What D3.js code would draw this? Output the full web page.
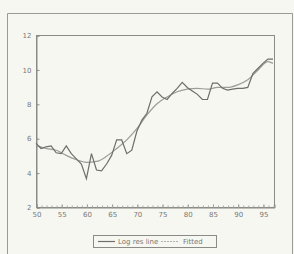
<!DOCTYPE html>
<html lang="en">
<head>
  <meta charset="UTF-8" />
  <title>Log res line vs fitted</title>
  <script src="https://cdn.jsdelivr.net/npm/d3@7"></script>
  <style>
    html, body { margin: 0; padding: 0; background: #f7f7f1; overflow: hidden; }
    svg { display: block; }
  </style>
</head>
<body>
  <script>
    // years 1950..1997 (two-digit labels)
    const years = d3.range(50, 98);
    const actual = [5.7, 5.4, 5.5, 5.55, 5.15, 5.1, 5.55, 5.1, 4.8, 4.5,
                    3.65, 5.1, 4.15, 4.1, 4.5, 5.0, 5.9, 5.9, 5.1, 5.3,
                    6.4, 7.05, 7.45, 8.4, 8.7, 8.4, 8.25, 8.6, 8.9, 9.25,
                    8.95, 8.75, 8.55, 8.25, 8.25, 9.2, 9.2, 8.9, 8.8, 8.85,
                    8.9, 8.9, 8.95, 9.75, 10.05, 10.35, 10.6, 10.6];
    const fitYears = [50, 52, 54, 56, 58, 60, 62, 64, 66, 68, 70, 72, 74, 76, 78, 80, 82, 84, 86, 88, 90, 92, 94, 96, 97];
    const fitted = [5.6, 5.4, 5.3, 5.0, 4.75, 4.6, 4.65, 4.95, 5.4, 5.9, 6.55, 7.35, 8.0, 8.4, 8.7, 8.85, 8.9, 8.85, 8.95, 8.95, 9.1, 9.4, 9.95, 10.45, 10.35];
    const xTicks = [50, 55, 60, 65, 70, 75, 80, 85, 90, 95];
    const yTicks = [2, 4, 6, 8, 10, 12];
    const legendLabels = ["Log res line", "Fitted"];

    const W = 294, H = 254;
    const svg = d3.select("body").append("svg").attr("width", W).attr("height", H);

    // outer frame of the scanned figure
    svg.append("path")
      .attr("d", "M7.5,254 V13.5 H292.5 V254")
      .attr("fill", "none").attr("stroke", "#9a9a96").attr("stroke-width", 1);

    const m = { left: 36, right: 274, top: 35, bottom: 207 };
    const x = d3.scaleLinear().domain([50, 97.2]).range([m.left, m.right]);
    const y = d3.scaleLinear().domain([2, 12]).range([m.bottom, m.top]);

    svg.append("rect")
      .attr("x", m.left + 0.5).attr("y", m.top + 0.5)
      .attr("width", m.right - m.left).attr("height", m.bottom - m.top)
      .attr("fill", "none").attr("stroke", "#8a8a86");

    const xAxis = svg.append("g")
      .attr("transform", `translate(0.5,${m.bottom + 0.5})`)
      .call(d3.axisBottom(x).tickValues(xTicks).tickSize(-3).tickPadding(5).tickFormat(d3.format("d")));
    // minor year ticks
    svg.append("g")
      .attr("transform", `translate(0.5,${m.bottom + 0.5})`)
      .call(d3.axisBottom(x).tickValues(years).tickSize(-2).tickFormat(""))
      .call(g => g.select(".domain").remove())
      .selectAll("line").attr("stroke", "#aaa");

    const yAxis = svg.append("g")
      .attr("transform", `translate(${m.left + 0.5},0.5)`)
      .call(d3.axisLeft(y).tickValues(yTicks).tickSize(-3).tickPadding(5));

    [xAxis, yAxis].forEach(g => {
      g.select(".domain").attr("stroke", "#8a8a86");
      g.selectAll("line").attr("stroke", "#8a8a86");
      g.selectAll("text").attr("fill", "#777").style("font-family", "DejaVu Sans, sans-serif").style("font-size", "7px");
    });

    const line = d3.line().x(d => x(d[0])).y(d => y(d[1]));

    svg.append("path")
      .datum(fitYears.map((yr, i) => [yr, fitted[i]]))
      .attr("d", line.curve(d3.curveMonotoneX))
      .attr("fill", "none").attr("stroke", "#9c9c98").attr("stroke-width", 1.2);

    svg.append("path")
      .datum(years.map((yr, i) => [yr, actual[i]]))
      .attr("d", d3.line().x(d => x(d[0])).y(d => y(d[1])))
      .attr("fill", "none").attr("stroke", "#6e6e6a").attr("stroke-width", 1.2);

    // legend
    const lg = svg.append("g").attr("transform", "translate(93,235)");
    lg.append("rect").attr("x", 0.5).attr("y", 0.5).attr("width", 123).attr("height", 12)
      .attr("fill", "none").attr("stroke", "#8a8a86");
    lg.append("line").attr("x1", 5).attr("x2", 22).attr("y1", 6.5).attr("y2", 6.5)
      .attr("stroke", "#6e6e6a").attr("stroke-width", 1.2);
    lg.append("text").attr("x", 25).attr("y", 9).text(legendLabels[0]);
    lg.append("line").attr("x1", 68).attr("x2", 86).attr("y1", 6.5).attr("y2", 6.5)
      .attr("stroke", "#b0b0ac").attr("stroke-width", 1.2).attr("stroke-dasharray", "2,1");
    lg.append("text").attr("x", 90).attr("y", 9).text(legendLabels[1]);
    lg.selectAll("text").attr("fill", "#777").style("font-family", "DejaVu Sans, sans-serif").style("font-size", "7px");
  </script>
</body>
</html>
